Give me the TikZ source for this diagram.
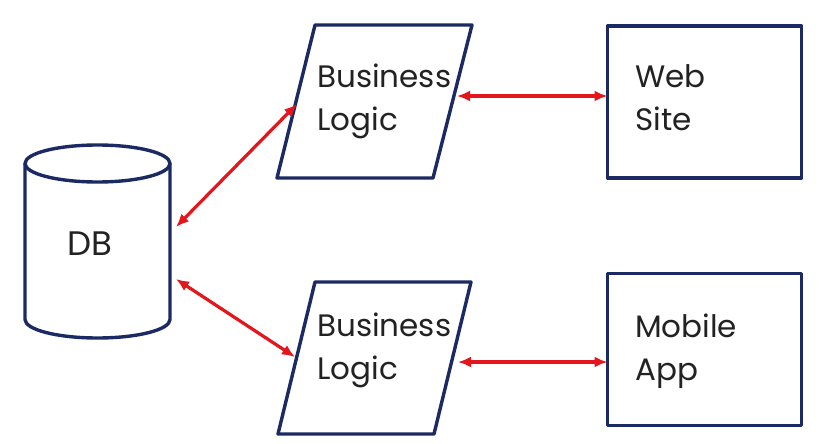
\documentclass[tikz,border=0pt]{standalone}
\usepackage{fontspec}
\setmainfont{Poppins}
\usetikzlibrary{arrows.meta}
\definecolor{navy}{HTML}{1B2A63}
\definecolor{arrred}{HTML}{E3161C}
\definecolor{txt}{HTML}{222222}
\tikzset{
  shapeline/.style={draw=navy, line width=3.4pt, line join=round},
  boxnode/.style={shapeline, rectangle, minimum width=194pt, minimum height=152pt, inner sep=0pt, outer sep=0pt},
  lbl/.style={font=\fontsize{31}{43}\selectfont, text=txt, align=left, inner sep=0pt, anchor=base west},
  link/.style={draw=arrred, line width=3.2pt, {Latex[length=13pt,width=11pt]}-{Latex[length=13pt,width=11pt]}}
}
\begin{document}
\begin{tikzpicture}[x=1pt,y=-1pt]
\useasboundingbox (0,0) rectangle (819,444);
\fill[white] (0,0) rectangle (819,444);
% database cylinder
\draw[shapeline, fill=white] (25,163.5) -- (25,319.5) arc (180:0:72.5 and 18.5) -- (170,163.5);
\draw[shapeline] (97.5,163.5) ellipse (72.5 and 18.5);
\node[lbl, font=\fontsize{34}{43}\selectfont] (db) at (67,255) {DB};
\coordinate (dbA) at (176,227);
\coordinate (dbB) at (176,279);
% business logic parallelograms
\draw[shapeline] (315,25) -- (472,25) -- (433,178) -- (277,178) -- cycle;
\node[lbl] (bl1) at (317,130) {Business\\Logic};
\coordinate (bl1w) at (297,104);
\coordinate (bl1e) at (457,96);
\draw[shapeline] (315,282) -- (471,282) -- (434,434) -- (278,434) -- cycle;
\node[lbl] (bl2) at (317,379) {Business\\Logic};
\coordinate (bl2w) at (295,357);
\coordinate (bl2e) at (458,362);
% boxes
\node[boxnode] (web) at (704.5,102) {};
\node[lbl] (webt) at (635,130) {Web\\Site};
\node[boxnode] (mob) at (704.5,349.5) {};
\node[lbl] (mobt) at (635,380) {Mobile\\App};
% connectors
\draw[link] (bl1w) -- (dbA);
\draw[link] (dbB) -- (bl2w);
\draw[link] (bl1e) -- (bl1e -| web.west);
\draw[link] (bl2e) -- (bl2e -| mob.west);
\end{tikzpicture}
\end{document}
